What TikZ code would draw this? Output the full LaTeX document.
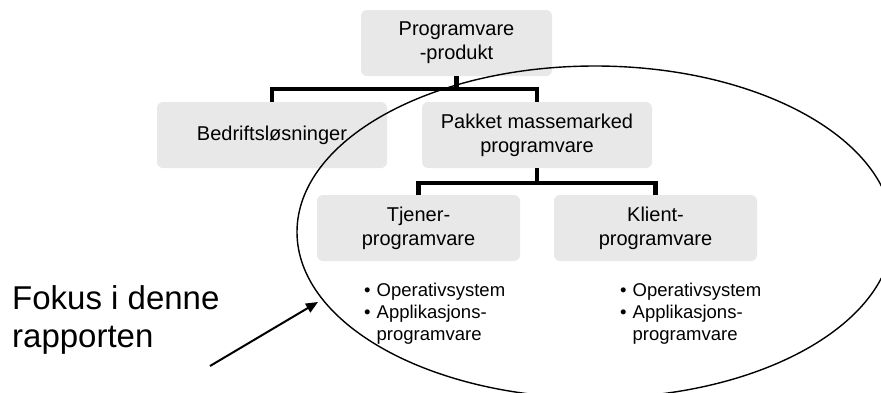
\documentclass[tikz,border=0pt]{standalone}
\usepackage{fontspec}
\setmainfont{Liberation Sans}
\usetikzlibrary{arrows.meta}
\definecolor{boxgray}{HTML}{E8E8E8}
\begin{document}
\begin{tikzpicture}[x=1pt,y=-1pt,
  box/.style={fill=boxgray, rounded corners=6pt, minimum height=66pt,
    align=center, inner sep=0pt, font=\fontsize{20}{24}\selectfont, text=black},
  tree/.style={line width=4.5pt},
  bul/.style={anchor=base west, inner sep=0pt, font=\fontsize{18.5}{22}\selectfont},
  focus/.style={line width=1.4pt}
]
\useasboundingbox (0,0) rectangle (881,392);

% hierarchy boxes
\node[box, minimum width=191pt] (root) at (456.5,43) {Programvare\\-produkt};
\node[box, minimum width=230pt] (bed) at (272,135) {Bedriftsløsninger};
\node[box, minimum width=230pt] (pak) at (537,135) {Pakket massemarked\\programvare};
\node[box, minimum width=203pt] (tje) at (418.5,228) {Tjener-\\programvare};
\node[box, minimum width=203pt] (kli) at (655.5,228) {Klient-\\programvare};

% tree connectors
\draw[tree] (root.south) -- ++(0,13) -| (bed.north);
\draw[tree] (root.south) -- ++(0,13) -| (pak.north);
\draw[tree] (pak.south) -- ++(0,15) -| (tje.north);
\draw[tree] (pak.south) -- ++(0,15) -| (kli.north);

% bullet lists
\node[bul] (tjlist) at (364,296) {\begin{tabular}[t]{@{}l@{\hspace{6pt}}l@{}}\textbullet & Operativsystem\\ \textbullet & Applikasjons-\\ & programvare\end{tabular}};
\node[bul] (kllist) at (620,296) {\begin{tabular}[t]{@{}l@{\hspace{6pt}}l@{}}\textbullet & Operativsystem\\ \textbullet & Applikasjons-\\ & programvare\end{tabular}};

% caption
\node[anchor=base west, inner sep=0pt, font=\fontsize{33}{38}\selectfont] (fokus) at (12,309)
  {\begin{tabular}[t]{@{}l@{}}Fokus i denne\\rapporten\end{tabular}};

% focus ellipse
\begin{scope}
  \clip (0,0) rectangle (881,392);
  \draw[focus] (595,232) ellipse [x radius=298pt, y radius=166pt];
\end{scope}

% pointer
\coordinate (atail) at (210,366);
\coordinate (ahead) at (318,302);
\draw[line width=2pt, -{Triangle[length=12pt,width=10pt]}] (atail) -- (ahead);
\end{tikzpicture}
\end{document}
